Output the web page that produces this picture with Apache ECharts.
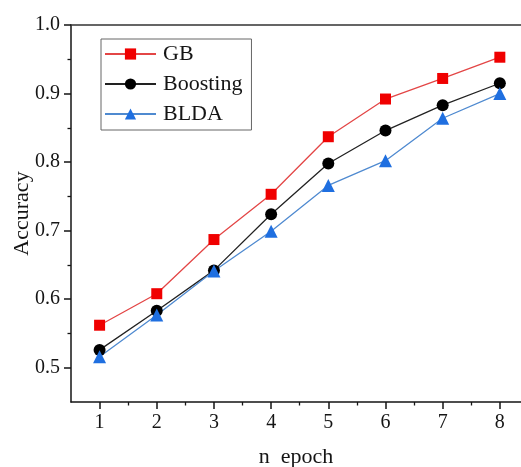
<!DOCTYPE html>
<html><head><meta charset="utf-8">
<script src="https://cdn.jsdelivr.net/npm/echarts@6/dist/echarts.min.js"></script>
<style>html,body{margin:0;padding:0;background:#fff}#c{width:521px;height:467px}</style>
</head><body><div id="c"></div>
<script>
const epochs = [1, 2, 3, 4, 5, 6, 7, 8];
const gb = [0.562, 0.608, 0.687, 0.753, 0.837, 0.892, 0.922, 0.953];
const boosting = [0.526, 0.583, 0.642, 0.724, 0.798, 0.846, 0.883, 0.915];
const blda = [0.516, 0.577, 0.641, 0.699, 0.766, 0.802, 0.864, 0.900];
const seriesNames = ['GB', 'Boosting', 'BLDA'];
const xMinorTicks = [1.5, 2.5, 3.5, 4.5, 5.5, 6.5, 7.5];
const yMajorTicks = [0.5, 0.6, 0.7, 0.8, 0.9, 1.0];
const yMinorTicks = [0.55, 0.65, 0.75, 0.85, 0.95];
const font = '"Liberation Serif", "Times New Roman", serif';
const ink = '#151515';

const chart = echarts.init(document.getElementById('c'), null, {renderer: 'canvas'});
const pair = arr => arr.map((v, i) => [epochs[i], v]);
const xRange = {type: 'value', min: 0.5, max: 8.37, interval: 0.5};
const yRange = {type: 'value', min: 0.45, max: 1.0, interval: 0.05};
const noSplit = {show: false};
chart.setOption({
  animation: false,
  grid: {left: 71, top: 25, right: 0, bottom: 65, containLabel: false, outerBoundsMode: 'none'},
  legend: {
    orient: 'vertical', left: 101, top: 39,
    padding: [4, 9, 5, 3], itemGap: 8, itemWidth: 51, itemHeight: 14,
    borderColor: '#666', borderWidth: 1,
    textStyle: {fontFamily: font, fontSize: 22, color: ink, padding: [0, 0, 0, 2]},
    data: seriesNames
  },
  xAxis: [
    Object.assign({}, xRange, {
      position: 'bottom',
      name: 'n  epoch', nameLocation: 'middle', nameGap: 44, nameMoveOverlap: false,
      nameTextStyle: {fontFamily: font, fontSize: 22, color: ink},
      axisLine: {show: true, onZero: false, lineStyle: {color: ink, width: 1.5}},
      axisTick: {show: true, inside: false, length: 7, lineStyle: {color: ink, width: 1.5}, customValues: epochs},
      axisLabel: {fontFamily: font, fontSize: 20, color: ink, margin: 11, customValues: epochs},
      splitLine: noSplit
    }),
    Object.assign({}, xRange, {
      position: 'bottom',
      axisLine: {show: false, onZero: false},
      axisTick: {show: true, inside: false, length: 3.5, lineStyle: {color: ink, width: 1.3}, customValues: xMinorTicks},
      axisLabel: {show: false},
      splitLine: noSplit
    }),
    Object.assign({}, xRange, {
      position: 'top',
      axisLine: {show: true, onZero: false, lineStyle: {color: '#333', width: 1.6}},
      axisTick: {show: false},
      axisLabel: {show: false},
      splitLine: noSplit
    })
  ],
  yAxis: [
    Object.assign({}, yRange, {
      position: 'left',
      name: 'Accuracy', nameLocation: 'middle', nameGap: 38, nameMoveOverlap: false,
      nameTextStyle: {fontFamily: font, fontSize: 22, color: ink},
      axisLine: {show: true, onZero: false, lineStyle: {color: ink, width: 1.5}},
      axisTick: {show: true, inside: false, length: 7, lineStyle: {color: ink, width: 1.5}, customValues: yMajorTicks},
      axisLabel: {fontFamily: font, fontSize: 20, color: ink, margin: 11, customValues: yMajorTicks,
        formatter: v => v.toFixed(1)},
      splitLine: noSplit
    }),
    Object.assign({}, yRange, {
      position: 'left',
      axisLine: {show: false, onZero: false},
      axisTick: {show: true, inside: false, length: 3.5, lineStyle: {color: ink, width: 1.3}, customValues: yMinorTicks},
      axisLabel: {show: false},
      splitLine: noSplit
    })
  ],
  series: [
    {name: 'GB', type: 'line', data: pair(gb), symbol: 'rect', symbolSize: 11,
      lineStyle: {color: '#e34646', width: 1.3}, itemStyle: {color: '#f00000'}},
    {name: 'Boosting', type: 'line', data: pair(boosting), symbol: 'circle', symbolSize: 12,
      lineStyle: {color: '#222', width: 1.3}, itemStyle: {color: '#000'}},
    {name: 'BLDA', type: 'line', data: pair(blda), symbol: 'triangle', symbolSize: 13,
      lineStyle: {color: '#4f8ad0', width: 1.3}, itemStyle: {color: '#1f6fe0'}}
  ]
});
</script></body></html>
